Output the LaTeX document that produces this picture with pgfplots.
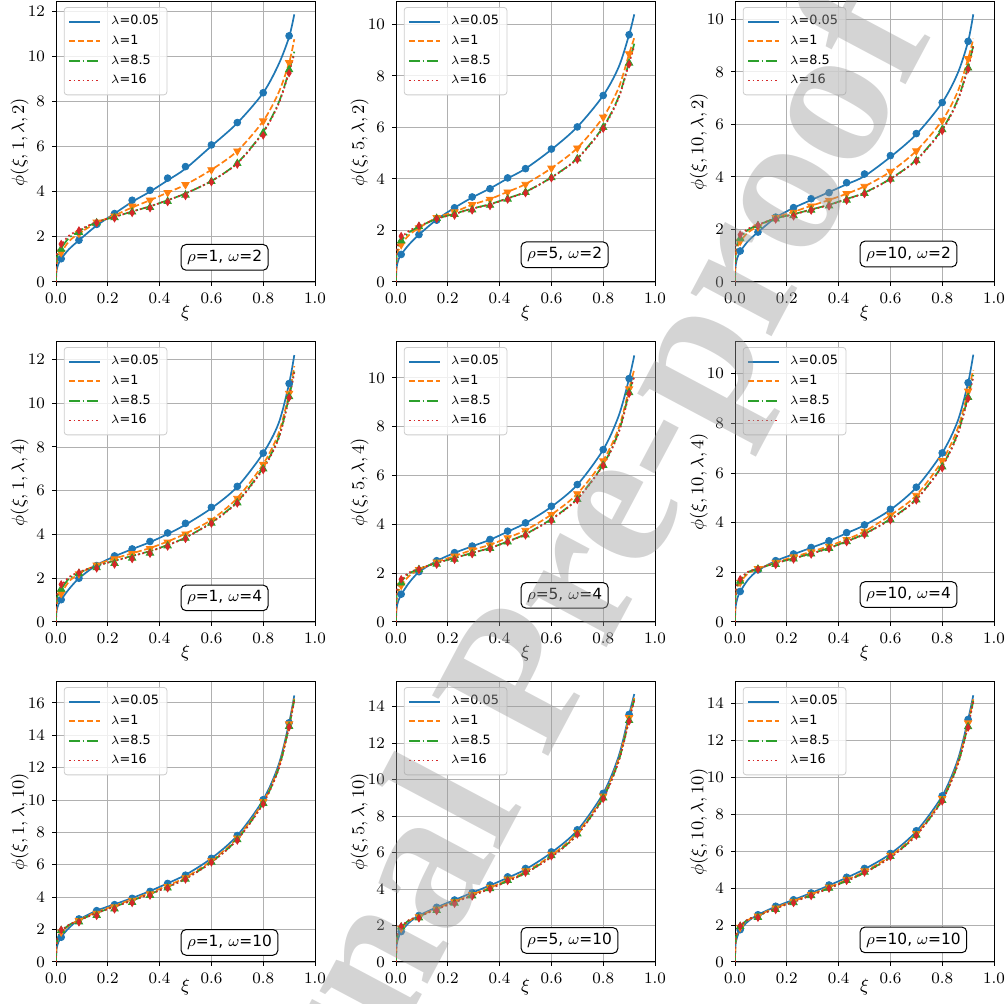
\documentclass[border=0pt]{standalone}
\usepackage{pgfplots}
\pgfplotsset{compat=1.18}
\usepackage{pgfplotstable}
\usepackage{fontspec}
\newfontfamily\dejavu{DejaVu Sans}
\newfontfamily\wmfont{Liberation Serif}

\definecolor{c0}{HTML}{1F77B4}
\definecolor{c1}{HTML}{FF7F0E}
\definecolor{c2}{HTML}{2CA02C}
\definecolor{c3}{HTML}{D62728}

% curves: x b o g r  (lambda = 0.05, 1, 8.5, 16)
\pgfplotstableread{
x b o g r
0 0 0 0 0
0.002 0.5 0.75 0.95 1.05
0.01 0.82 1.1 1.3 1.45
0.02 1.03 1.3 1.5 1.65
0.05 1.45 1.8 1.95 2.05
0.089 1.85 2.15 2.25 2.3
0.157 2.5 2.62 2.65 2.66
0.226 3.03 2.95 2.88 2.88
0.294 3.55 3.3 3.12 3.12
0.363 4.0 3.62 3.35 3.35
0.431 4.5 3.96 3.62 3.62
0.5 5.02 4.31 3.92 3.92
0.6 6.02 4.97 4.47 4.47
0.7 7.04 5.8 5.27 5.25
0.8 8.38 7.13 6.65 6.62
0.86 9.65 8.4 7.95 7.9
0.9 10.85 9.71 9.35 9.3
0.92 11.85 10.75 10.2 10.1
}\cA
\pgfplotstableread{
x b o g r
0.02 1.03 1.3 1.45 1.68
0.0886 1.85 2.15 2.2 2.28
0.157 2.55 2.65 2.62 2.62
0.226 3.03 2.92 2.85 2.82
0.294 3.62 3.36 3.1 3.06
0.363 4.06 3.62 3.3 3.27
0.431 4.6 3.96 3.57 3.54
0.5 5.11 4.31 3.85 3.81
0.6 6.07 4.97 4.45 4.42
0.7 7.06 5.8 5.25 5.2
0.8 8.38 7.13 6.6 6.49
0.9 10.9 9.71 9.4 9.25
}\mA

\pgfplotstableread{
x b o g r
0 0 0 0 0
0.002 0.55 0.85 1.05 1.15
0.01 0.88 1.25 1.42 1.55
0.02 1.07 1.45 1.6 1.72
0.05 1.45 1.82 1.92 1.98
0.089 1.84 2.1 2.15 2.17
0.157 2.42 2.5 2.45 2.45
0.226 2.88 2.72 2.65 2.64
0.294 3.28 3.0 2.85 2.84
0.363 3.63 3.22 3.02 3.01
0.431 4.02 3.5 3.25 3.24
0.5 4.4 3.8 3.5 3.49
0.6 5.14 4.42 4.06 4.05
0.7 6.02 5.2 4.8 4.78
0.8 7.24 6.4 6.02 5.98
0.86 8.35 7.55 7.2 7.15
0.9 9.6 8.85 8.55 8.5
0.92 10.39 9.48 9.25 9.15
}\cB
\pgfplotstableread{
x b o g r
0.02 1.07 1.45 1.6 1.78
0.0886 1.84 2.1 2.15 2.18
0.157 2.4 2.5 2.47 2.45
0.226 2.88 2.72 2.62 2.58
0.294 3.3 3.0 2.8 2.78
0.363 3.62 3.21 2.98 2.95
0.431 4.04 3.49 3.22 3.2
0.5 4.4 3.79 3.48 3.45
0.6 5.16 4.42 4.05 4.03
0.7 6.02 5.2 4.78 4.75
0.8 7.24 6.4 6.0 5.95
0.9 9.6 8.86 8.5 8.45
}\mB

\pgfplotstableread{
x b o g r
0 0 0 0 0
0.002 0.6 0.95 1.1 1.2
0.01 0.95 1.35 1.5 1.6
0.02 1.16 1.55 1.68 1.78
0.05 1.55 1.88 1.98 2.02
0.089 1.9 2.12 2.17 2.18
0.157 2.45 2.45 2.42 2.42
0.226 2.82 2.67 2.58 2.57
0.294 3.12 2.9 2.76 2.75
0.363 3.42 3.12 2.94 2.93
0.431 3.72 3.36 3.16 3.15
0.5 4.03 3.64 3.4 3.39
0.6 4.76 4.2 3.93 3.92
0.7 5.62 4.99 4.65 4.63
0.8 6.83 6.15 5.82 5.78
0.86 7.95 7.25 6.95 6.9
0.9 9.16 8.5 8.2 8.15
0.92 10.19 9.26 9.0 8.95
}\cC
\pgfplotstableread{
x b o g r
0.02 1.18 1.55 1.65 1.8
0.0886 1.9 2.1 2.15 2.15
0.157 2.47 2.45 2.4 2.38
0.226 2.83 2.65 2.53 2.5
0.294 3.17 2.89 2.74 2.72
0.363 3.4 3.11 2.9 2.88
0.431 3.78 3.36 3.12 3.1
0.5 4.11 3.64 3.37 3.35
0.6 4.81 4.21 3.92 3.9
0.7 5.65 4.99 4.62 4.6
0.8 6.83 6.15 5.8 5.75
0.9 9.16 8.5 8.15 8.1
}\mC

\pgfplotstableread{
x b o g r
0 0 0 0 0
0.002 0.5 0.75 0.95 1.05
0.01 0.82 1.1 1.32 1.45
0.02 1.02 1.3 1.5 1.65
0.05 1.5 1.85 1.98 2.05
0.089 2.0 2.2 2.25 2.28
0.157 2.6 2.62 2.57 2.57
0.226 3.0 2.9 2.8 2.79
0.294 3.33 3.14 3.02 3.01
0.363 3.65 3.38 3.24 3.23
0.431 4.02 3.68 3.52 3.51
0.5 4.45 4.04 3.86 3.85
0.6 5.2 4.67 4.55 4.53
0.7 6.18 5.67 5.5 5.47
0.8 7.72 7.22 7.05 7.0
0.86 9.1 8.65 8.45 8.4
0.9 10.9 10.45 10.3 10.25
0.92 12.2 11.7 11.45 11.4
}\cD
\pgfplotstableread{
x b o g r
0.02 1.02 1.3 1.5 1.72
0.0886 2.0 2.2 2.22 2.25
0.157 2.58 2.6 2.48 2.45
0.226 3.02 2.88 2.68 2.63
0.294 3.34 3.12 2.92 2.88
0.363 3.68 3.35 3.15 3.12
0.431 4.07 3.65 3.48 3.45
0.5 4.51 4.02 3.83 3.8
0.6 5.24 4.65 4.52 4.5
0.7 6.2 5.65 5.45 5.42
0.8 7.72 7.2 7.0 6.95
0.9 10.9 10.45 10.3 10.25
}\mD

\pgfplotstableread{
x b o g r
0 0 0 0 0
0.002 0.55 0.85 1.05 1.15
0.01 0.9 1.28 1.45 1.55
0.02 1.12 1.5 1.65 1.73
0.05 1.6 1.88 1.98 2.02
0.089 2.05 2.15 2.18 2.18
0.157 2.5 2.45 2.42 2.42
0.226 2.83 2.7 2.62 2.62
0.294 3.1 2.95 2.83 2.83
0.363 3.37 3.16 3.03 3.03
0.431 3.7 3.45 3.3 3.29
0.5 4.05 3.76 3.6 3.59
0.6 4.72 4.4 4.22 4.2
0.7 5.62 5.25 5.05 5.03
0.8 7.06 6.62 6.45 6.42
0.86 8.45 7.95 7.8 7.75
0.9 9.97 9.55 9.4 9.35
0.92 10.92 10.35 10.1 10.05
}\cE
\pgfplotstableread{
x b o g r
0.02 1.14 1.5 1.6 1.75
0.0886 2.06 2.15 2.15 2.15
0.157 2.51 2.45 2.37 2.35
0.226 2.84 2.7 2.57 2.55
0.294 3.11 2.95 2.8 2.78
0.363 3.38 3.15 3.02 3.0
0.431 3.72 3.45 3.28 3.27
0.5 4.06 3.75 3.57 3.55
0.6 4.74 4.4 4.17 4.15
0.7 5.63 5.25 5.02 5.0
0.8 7.06 6.6 6.42 6.4
0.9 9.97 9.55 9.4 9.35
}\mE

\pgfplotstableread{
x b o g r
0 0 0 0 0
0.002 0.6 0.95 1.1 1.2
0.01 0.98 1.38 1.5 1.58
0.02 1.22 1.6 1.68 1.75
0.05 1.7 1.95 2.0 2.02
0.089 2.08 2.15 2.15 2.15
0.157 2.46 2.4 2.37 2.37
0.226 2.73 2.62 2.56 2.56
0.294 2.99 2.83 2.76 2.75
0.363 3.26 3.06 2.98 2.97
0.431 3.58 3.33 3.25 3.24
0.5 3.9 3.65 3.55 3.54
0.6 4.52 4.3 4.15 4.13
0.7 5.42 5.1 4.95 4.93
0.8 6.81 6.5 6.3 6.27
0.86 8.1 7.8 7.6 7.55
0.9 9.64 9.3 9.1 9.05
0.92 10.77 10.15 9.95 9.85
}\cF
\pgfplotstableread{
x b o g r
0.02 1.23 1.6 1.65 1.72
0.0886 2.1 2.15 2.13 2.12
0.157 2.47 2.4 2.32 2.3
0.226 2.74 2.62 2.54 2.52
0.294 3.0 2.82 2.74 2.72
0.363 3.27 3.05 2.97 2.95
0.431 3.6 3.32 3.24 3.22
0.5 3.91 3.65 3.54 3.52
0.6 4.54 4.3 4.12 4.1
0.7 5.43 5.1 4.92 4.9
0.8 6.81 6.5 6.25 6.2
0.9 9.64 9.3 9.05 9.0
}\mF

\pgfplotstableread{
x b o g r
0 0 0 0 0
0.002 0.8 1.0 1.1 1.15
0.01 1.25 1.5 1.6 1.65
0.02 1.55 1.8 1.88 1.92
0.05 2.1 2.25 2.28 2.3
0.089 2.62 2.6 2.58 2.57
0.157 3.17 3.08 3.03 3.02
0.226 3.56 3.48 3.42 3.41
0.294 3.95 3.86 3.8 3.79
0.363 4.38 4.27 4.2 4.19
0.431 4.86 4.72 4.64 4.63
0.5 5.38 5.22 5.14 5.13
0.6 6.4 6.25 6.17 6.15
0.7 7.81 7.66 7.58 7.55
0.8 10.02 9.9 9.82 9.78
0.86 12.2 12.05 11.97 11.93
0.9 14.77 14.65 14.57 14.52
0.92 16.46 16.3 16.2 16.15
}\cG
\pgfplotstableread{
x b o g r
0.02 1.53 1.85 1.95 1.98
0.0886 2.66 2.55 2.48 2.45
0.157 3.17 3.0 2.88 2.85
0.226 3.54 3.4 3.28 3.25
0.294 3.93 3.8 3.68 3.65
0.363 4.36 4.2 4.12 4.1
0.431 4.85 4.65 4.57 4.55
0.5 5.36 5.2 5.12 5.1
0.6 6.4 6.25 6.17 6.15
0.7 7.81 7.65 7.55 7.5
0.8 10.02 9.9 9.8 9.75
0.9 14.77 14.7 14.55 14.5
}\mG

\pgfplotstableread{
x b o g r
0 0 0 0 0
0.002 0.9 1.05 1.15 1.2
0.01 1.35 1.55 1.62 1.66
0.02 1.67 1.85 1.9 1.93
0.05 2.15 2.25 2.28 2.3
0.089 2.55 2.52 2.5 2.5
0.157 3.0 2.93 2.9 2.89
0.226 3.4 3.32 3.28 3.27
0.294 3.8 3.7 3.65 3.64
0.363 4.2 4.08 4.03 4.02
0.431 4.62 4.5 4.44 4.43
0.5 5.08 4.95 4.88 4.87
0.6 6.0 5.85 5.78 5.76
0.7 7.22 7.08 7.0 6.98
0.8 9.25 9.1 9.02 8.98
0.86 11.3 11.15 11.05 11.0
0.9 13.58 13.4 13.3 13.25
0.92 14.7 14.5 14.4 14.35
}\cH
\pgfplotstableread{
x b o g r
0.02 1.67 1.85 1.92 1.95
0.0886 2.55 2.48 2.42 2.4
0.157 3.0 2.9 2.83 2.8
0.226 3.4 3.3 3.23 3.2
0.294 3.8 3.7 3.63 3.6
0.363 4.22 4.1 4.03 4.0
0.431 4.67 4.55 4.48 4.45
0.5 5.13 5.0 4.93 4.9
0.6 6.04 5.9 5.83 5.8
0.7 7.25 7.1 7.03 7.0
0.8 9.25 9.1 9.0 8.95
0.9 13.58 13.4 13.25 13.2
}\mH

\pgfplotstableread{
x b o g r
0 0 0 0 0
0.002 0.95 1.1 1.18 1.22
0.01 1.42 1.6 1.66 1.7
0.02 1.73 1.88 1.93 1.95
0.05 2.2 2.27 2.3 2.31
0.089 2.56 2.53 2.51 2.51
0.157 3.0 2.94 2.91 2.9
0.226 3.37 3.3 3.26 3.25
0.294 3.74 3.66 3.62 3.61
0.363 4.15 4.05 4.0 3.99
0.431 4.57 4.45 4.4 4.39
0.5 5.03 4.9 4.84 4.83
0.6 5.86 5.74 5.68 5.66
0.7 7.08 6.95 6.88 6.86
0.8 9.0 8.85 8.78 8.75
0.86 10.95 10.8 10.72 10.68
0.9 13.14 12.95 12.85 12.8
0.92 14.45 14.25 14.15 14.1
}\cI
\pgfplotstableread{
x b o g r
0.02 1.75 1.88 1.93 1.95
0.0886 2.56 2.48 2.42 2.4
0.157 3.02 2.92 2.85 2.82
0.226 3.37 3.28 3.22 3.2
0.294 3.74 3.65 3.6 3.58
0.363 4.17 4.05 4.0 3.98
0.431 4.59 4.48 4.42 4.4
0.5 5.07 4.93 4.87 4.85
0.6 5.88 5.78 5.72 5.7
0.7 7.11 6.95 6.88 6.85
0.8 9.0 8.85 8.75 8.7
0.9 13.14 12.95 12.75 12.7
}\mI

\pgfplotsset{
  xlab/.style={xlabel style={at={(axis description cs:0.5,-0.111)}, anchor=center}},
  panel/.style={
    scale only axis, width=129.5pt, height=140pt, anchor=south west,
    xmin=0, xmax=1, ymin=0,
    xtick={0,0.2,0.4,0.6,0.8,1},
    xticklabel style={/pgf/number format/.cd, fixed, fixed zerofill, precision=1},
    tick label style={font=\fontsize{8.5}{10}\selectfont},
    label style={font=\fontsize{9}{10}\selectfont},
    xlabel={$\xi$}, xlab,
    ylabel style={at={(axis description cs:-0.14,0.5)}, anchor=center},
    tick align=outside, tick pos=left, major tick length=2pt,
    every tick/.style={black, line width=0.5pt},
    axis line style={line width=0.5pt},
    grid=major, major grid style={color=black!31, line width=0.45pt},
    legend style={at={(0.03,0.982)}, anchor=north west, draw=black!20,
      rounded corners=1.5pt, fill=white, fill opacity=0.8, text opacity=1,
      font=\dejavu\fontsize{6.4}{7.5}\selectfont, row sep=-0.4pt,
      inner xsep=2pt, inner ysep=2pt,
      /tikz/every odd column/.append style={column sep=3pt}},
    legend cell align=left,
    legend image code/.code={\draw[##1] (0pt,0pt) -- (15.5pt,0pt);},
  },
  cb/.style={c0, line width=0.85pt, smooth},
  co/.style={c1, line width=0.85pt, smooth, dash pattern=on 3.15pt off 1.36pt},
  cg/.style={c2, line width=0.85pt, smooth, dash pattern=on 5.4pt off 1.36pt on 0.85pt off 1.36pt},
  cr/.style={c3, line width=0.85pt, smooth, dash pattern=on 0.85pt off 1.4pt},
  mb/.style={only marks, forget plot, mark=*, mark size=1.7pt, mark options={solid, draw=c0, fill=c0}},
  mo/.style={only marks, forget plot, mark=triangle*, mark size=2.1pt, mark options={solid, rotate=180, draw=c1, fill=c1}},
  mg/.style={only marks, forget plot, mark=triangle*, mark size=2.1pt, mark options={solid, draw=c2, fill=c2}},
  mr/.style={only marks, forget plot, mark=diamond*, mark size=1.8pt, mark options={solid, xscale=0.8, draw=c3, fill=c3}},
}

\newcommand{\panel}[9]{%
\begin{axis}[panel, at={(#1,#2)}, ymax=#5, ytick={#6},
  ylabel={$\phi(\xi, #7, \lambda, #8)$}]
\addplot[cb] table[x=x,y=b] {#3};
\addplot[co] table[x=x,y=o] {#3};
\addplot[cg] table[x=x,y=g] {#3};
\addplot[cr] table[x=x,y=r] {#3};
\legend{$\lambda$=0.05, $\lambda$=1, $\lambda$=8.5, $\lambda$=16}
\addplot[mb] table[x=x,y=b] {#4};
\addplot[mo] table[x=x,y=o] {#4};
\addplot[mg] table[x=x,y=g] {#4};
\addplot[mr] table[x=x,y=r] {#4};
\node[anchor=west, draw=black, line width=0.5pt, rounded corners=2.5pt, fill=white,
  inner xsep=3pt, inner ysep=2.8pt, font=\dejavu\fontsize{7.7}{8.5}\selectfont]
  at (rel axis cs:0.481,#9) {$\rho$=#7, $\omega$=#8};
\end{axis}}

\begin{document}
\begin{tikzpicture}
\useasboundingbox (0,0) rectangle (503pt,502pt);
\panel{28pt}{361pt}{\cA}{\mA}{12.4}{0,2,...,12}{1}{2}{0.088}
\panel{198pt}{361pt}{\cB}{\mB}{10.87}{0,2,...,10}{5}{2}{0.097}
\panel{367.5pt}{361pt}{\cC}{\mC}{10.66}{0,2,...,10}{10}{2}{0.1}
\panel{28pt}{191pt}{\cD}{\mD}{12.8}{0,2,...,12}{1}{4}{0.086}
\panel{198pt}{191pt}{\cE}{\mE}{11.47}{0,2,...,10}{5}{4}{0.095}
\panel{367.5pt}{191pt}{\cF}{\mF}{11.28}{0,2,...,10}{10}{4}{0.098}
\pgfplotsset{xlab/.style={xlabel style={at={(axis description cs:0.5,-0.09)}, anchor=center}}}
\panel{28pt}{21pt}{\cG}{\mG}{17.29}{0,2,...,16}{1}{10}{0.07}
\panel{198pt}{21pt}{\cH}{\mH}{15.36}{0,2,...,14}{5}{10}{0.077}
\panel{367.5pt}{21pt}{\cI}{\mI}{15.17}{0,2,...,14}{10}{10}{0.079}
\node[rotate=62, text=black!40, opacity=0.42,
  font=\wmfont\bfseries\fontsize{100}{100}\selectfont]
  at (264.5pt,157.5pt) {Journal Pre-proof};
\end{tikzpicture}
\end{document}
